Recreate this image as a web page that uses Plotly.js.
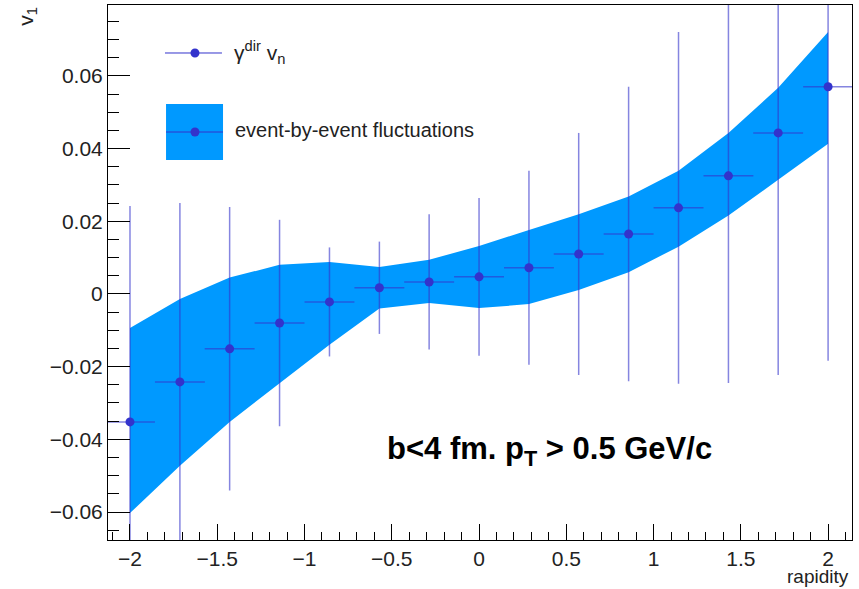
<!DOCTYPE html>
<html>
<head>
<meta charset="utf-8">
<script src="https://cdn.plot.ly/plotly-3.0.1.min.js"></script>
<style>html,body{margin:0;padding:0;background:#fff;}#chart{width:859px;height:589px;}</style>
</head>
<body>
<div id="chart"></div>
<script>
// rapidity bin centres
const rapidity = [-2, -1.714, -1.429, -1.143, -0.857, -0.571, -0.286, 0, 0.286, 0.571, 0.857, 1.143, 1.429, 1.714, 2];
// half bin width (horizontal error)
const rapidityErr = [0.143, 0.143, 0.143, 0.143, 0.143, 0.143, 0.143, 0.143, 0.143, 0.143, 0.143, 0.143, 0.143, 0.143, 0.143];
// gamma^dir v_n values and statistical errors
const v1 = [-0.0352, -0.0242, -0.0151, -0.0080, -0.0022, 0.0017, 0.0033, 0.0047, 0.0072, 0.0110, 0.0165, 0.0237, 0.0325, 0.0443, 0.0570];
const v1Err = [0.0594, 0.0492, 0.0390, 0.0284, 0.0150, 0.0127, 0.0186, 0.0217, 0.0267, 0.0333, 0.0405, 0.0484, 0.0570, 0.0666, 0.0754];
// event-by-event fluctuation band
const bandUpper = [-0.0094, -0.0014, 0.0045, 0.0080, 0.0088, 0.0074, 0.0094, 0.0132, 0.0176, 0.0219, 0.0268, 0.0339, 0.0443, 0.0567, 0.0721];
const bandLower = [-0.0603, -0.0473, -0.0352, -0.0245, -0.0140, -0.0040, -0.0025, -0.0039, -0.0028, 0.0011, 0.0060, 0.0130, 0.0216, 0.0314, 0.0413];

const BAND = '#0099ff';
const PT = '#3333cc';
const ERR = 'rgba(51,51,204,0.6)';
const FONT = 'Liberation Sans, Arial, Helvetica, sans-serif';

const traces = [
  {x: rapidity, y: bandLower, type: 'scatter', mode: 'lines', line: {width: 0, color: BAND}, hoverinfo: 'skip', showlegend: false},
  {x: rapidity, y: bandUpper, type: 'scatter', mode: 'lines', line: {width: 0, color: BAND}, fill: 'tonexty', fillcolor: BAND, showlegend: false},
  {x: rapidity, y: v1, type: 'scatter', mode: 'markers',
   marker: {color: PT, size: 9},
   error_y: {type: 'data', array: v1Err, color: ERR, thickness: 1.5, width: 0},
   error_x: {type: 'data', array: rapidityErr, color: ERR, thickness: 1.5, width: 0},
   showlegend: false}
];

const axisCommon = {
  showline: true, linecolor: '#000', linewidth: 1, mirror: true,
  ticks: 'inside', tickcolor: '#000', tickwidth: 1,
  showgrid: false, zeroline: false,
  tickfont: {family: FONT, size: 21, color: '#222'}
};

const layout = {
  width: 859, height: 589,
  margin: {l: 108, r: 7, t: 5, b: 49},
  paper_bgcolor: '#fff', plot_bgcolor: '#fff',
  showlegend: false,
  xaxis: Object.assign({}, axisCommon, {
    range: [-2.126, 2.137], tick0: 0, dtick: 0.5, ticklen: 16,
    minor: {dtick: 0.1, tick0: 0, ticks: 'inside', ticklen: 8, tickcolor: '#000', showgrid: false}
  }),
  yaxis: Object.assign({}, axisCommon, {
    range: [-0.0677, 0.0795], tick0: 0, dtick: 0.02, ticklen: 22,
    minor: {dtick: 0.005, tick0: 0, ticks: 'inside', ticklen: 11, tickcolor: '#000', showgrid: false}
  }),
  shapes: [
    // legend row 1: line + marker
    {type: 'line', xref: 'paper', yref: 'paper', x0: 0.0766, x1: 0.1532, y0: 0.9103, y1: 0.9103, line: {color: PT, width: 1}},
    {type: 'circle', xref: 'paper', yref: 'paper', xsizemode: 'pixel', ysizemode: 'pixel', xanchor: 0.1169, yanchor: 0.9103,
     x0: -4.5, x1: 4.5, y0: -4.5, y1: 4.5, fillcolor: PT, line: {width: 0}},
    // legend row 2: filled box + line + marker
    {type: 'rect', xref: 'paper', yref: 'paper', x0: 0.0780, x1: 0.1546, y0: 0.7103, y1: 0.8150, fillcolor: BAND, line: {width: 0}},
    {type: 'line', xref: 'paper', yref: 'paper', x0: 0.0780, x1: 0.1546, y0: 0.7626, y1: 0.7626, line: {color: PT, width: 1}},
    {type: 'circle', xref: 'paper', yref: 'paper', xsizemode: 'pixel', ysizemode: 'pixel', xanchor: 0.1169, yanchor: 0.7626,
     x0: -4.5, x1: 4.5, y0: -4.5, y1: 4.5, fillcolor: PT, line: {width: 0}}
  ],
  annotations: [
    {xref: 'paper', yref: 'paper', x: 0.1667, y: 0.9103, xanchor: 'left', yanchor: 'middle', showarrow: false,
     text: 'γ<sup>dir</sup> v<sub>n</sub>', font: {family: FONT, size: 21, color: '#222'}},
    {xref: 'paper', yref: 'paper', x: 0.1680, y: 0.7664, xanchor: 'left', yanchor: 'middle', showarrow: false,
     text: 'event-by-event fluctuations', font: {family: FONT, size: 20, color: '#222'}},
    {xref: 'paper', yref: 'paper', x: 0.3723, y: 0.166, xanchor: 'left', yanchor: 'middle', showarrow: false,
     text: '<b>b&lt;4 fm. p<sub>T</sub> &gt; 0.5 GeV/c</b>', font: {family: FONT, size: 31, color: '#000'}},
    // axis titles (ROOT style: at the axis ends)
    {xref: 'paper', yref: 'paper', x: -0.1100, y: 1.0, xanchor: 'center', yanchor: 'top', showarrow: false, textangle: -90,
     text: 'v<sub>1</sub>', font: {family: FONT, size: 21, color: '#222'}},
    {xref: 'paper', yref: 'paper', x: 0.997, y: -0.0673, xanchor: 'right', yanchor: 'middle', showarrow: false, borderpad: 0,
     text: 'rapidity', font: {family: FONT, size: 19, color: '#222'}}
  ]
};

Plotly.newPlot('chart', traces, layout, {staticPlot: true, displayModeBar: false});
</script>
</body>
</html>
